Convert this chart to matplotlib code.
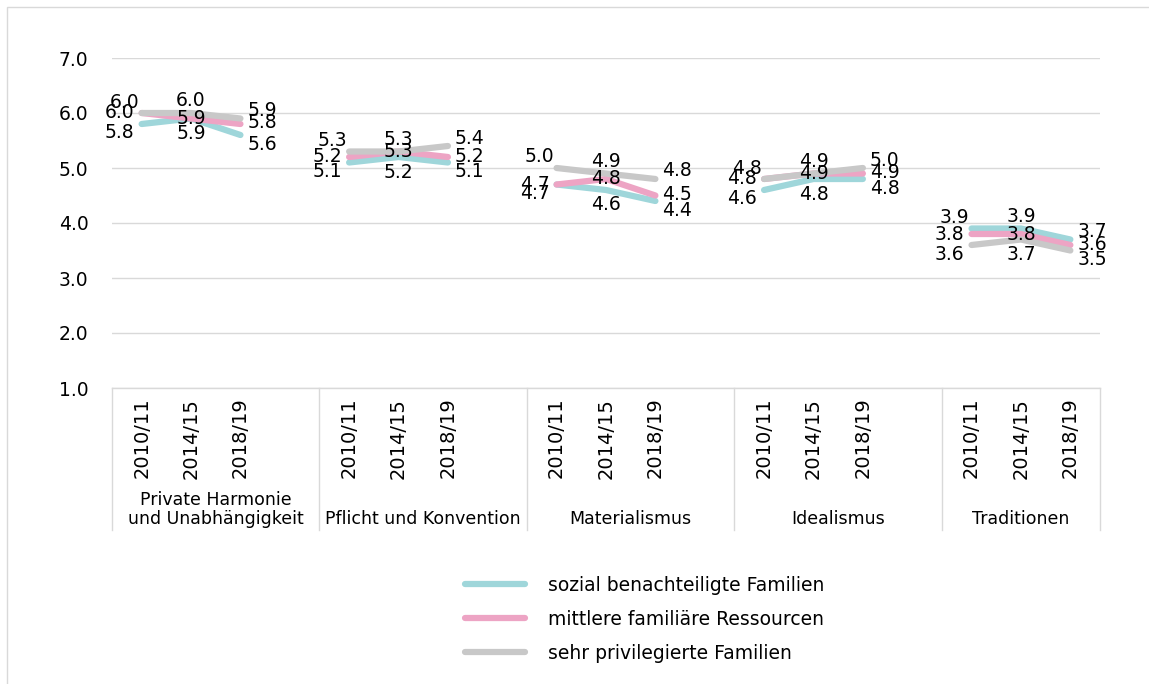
import numpy as np
import matplotlib
matplotlib.use("Agg")
import matplotlib.pyplot as plt
from matplotlib.patches import Rectangle

# Daten
gruppen = ["Private Harmonie\nund Unabhängigkeit", "Pflicht und Konvention",
           "Materialismus", "Idealismus", "Traditionen"]
wellen = ["2010/11", "2014/15", "2018/19"]

serien = ["sozial benachteiligte Familien", "mittlere familiäre Ressourcen",
          "sehr privilegierte Familien"]
sozial = [5.8, 5.9, 5.6, 5.1, 5.2, 5.1, 4.7, 4.6, 4.4, 4.6, 4.8, 4.8, 3.9, 3.9, 3.7]
mittlere = [6.0, 5.9, 5.8, 5.2, 5.3, 5.2, 4.7, 4.8, 4.5, 4.8, 4.9, 4.9, 3.8, 3.8, 3.6]
sehr = [6.0, 6.0, 5.9, 5.3, 5.3, 5.4, 5.0, 4.9, 4.8, 4.8, 4.9, 5.0, 3.6, 3.7, 3.5]
farben = ["#9fd6da", "#eda4c4", "#c8c8c8"]

W, H = 1149, 684
FS = 13.5       # Zahlen und Legende
FS_GRP = 12.5   # Gruppennamen
FS_X = 14       # Wellen
GRID = "#d9d9d9"
STEP = 4.2      # Abstand der Gruppen (in Kategorien)
OFF = 0.6       # erster Punkt innerhalb der Gruppe
XMAX = 20

fig = plt.figure(figsize=(W / 100, H / 100), dpi=100)
ax = fig.add_axes([112 / W, 1 - 388 / H, 988 / W, 330 / H])

xs = [g * STEP + OFF + i for g in range(len(gruppen)) for i in range(len(wellen))]
werte = [sozial, mittlere, sehr]

for s, (vals, col) in enumerate(zip(werte, farben)):
    for g in range(len(gruppen)):
        sl = slice(g * 3, g * 3 + 3)
        ax.plot(xs[sl], vals[sl], color=col, lw=4.5, solid_capstyle="round",
                solid_joinstyle="round", label=serien[s] if g == 0 else None, zorder=3)

# Datenbeschriftungen (oben / mitte / unten je nach Rang)
px = 0.72
versatz = {0: [-11, 0, 9], 1: [-12, 0, 15], 2: [-8, -1, 9]}
for j, x in enumerate(xs):
    pos = j % 3
    v = [sozial[j], mittlere[j], sehr[j]]
    order = sorted(range(3), key=lambda s: (v[s], s), reverse=True)
    for rank, s in enumerate(order):
        dy = versatz[pos][rank]
        if pos == 0:
            dx, ha = (-2 if rank == 0 else -7), "right"
        elif pos == 1:
            dx, ha = 0, "center"
        else:
            dx, ha = 7, "left"
        ax.annotate(f"{v[s]:.1f}", (x, v[s]), xytext=(dx * px, -dy * px),
                    textcoords="offset points", ha=ha, va="center",
                    fontsize=FS, color="black", zorder=5)

ax.set_xlim(0, XMAX)
ax.set_ylim(1, 7)
ax.set_yticks(np.arange(1, 8))
ax.set_yticklabels([f"{t:.1f}" for t in np.arange(1, 8)], fontsize=FS)
ax.set_xticks(xs)
ax.set_xticklabels(wellen * len(gruppen), rotation=90, fontsize=FS_X)
ax.tick_params(axis="y", length=0, pad=17)
ax.tick_params(axis="x", length=0, pad=7)
ax.grid(axis="y", color=GRID, lw=1)
ax.set_axisbelow(True)
for sp in ["top", "left", "right"]:
    ax.spines[sp].set_visible(False)
ax.spines["bottom"].set_color(GRID)
ax.spines["bottom"].set_linewidth(1)

# Gruppentrenner und Gruppennamen
unten = -(530 - 388) / 330
trans = ax.get_xaxis_transform()
grenzen = [min(g * STEP, XMAX) for g in range(len(gruppen) + 1)]
for b in grenzen:
    ax.plot([b, b], [0, unten], color=GRID, lw=1, transform=trans, clip_on=False)
for g, name in enumerate(gruppen):
    mitte = (grenzen[g] + grenzen[g + 1]) / 2
    ax.text(mitte, unten + 0.005, name, transform=trans, ha="center", va="bottom",
            fontsize=FS_GRP, multialignment="center", linespacing=1.1)

fig.legend(loc="upper left", bbox_to_anchor=(465 / W, 1 - 576 / H), frameon=False,
           fontsize=FS, handlelength=3.2, handletextpad=1.2, labelspacing=0.8,
           borderpad=0, borderaxespad=0)

fig.add_artist(Rectangle((7 / W, -0.1), 1.2, 1.1 - 7 / H, transform=fig.transFigure,
                         fill=False, ec=GRID, lw=1))

fig.savefig("out.png", dpi=100)
